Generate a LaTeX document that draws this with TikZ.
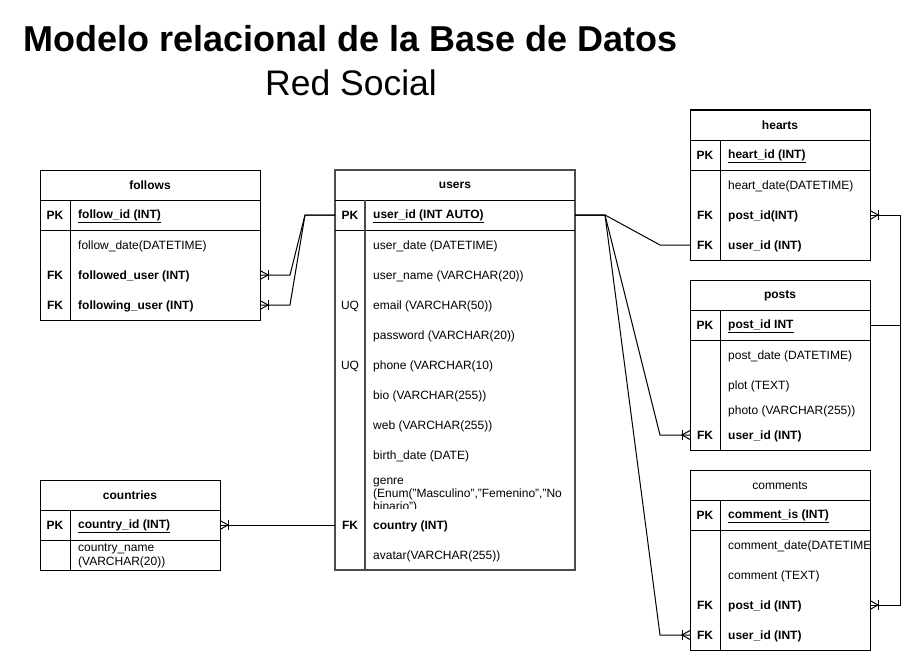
\documentclass[tikz,border=0pt]{standalone}
\usepackage{fontspec}
\setmainfont{Liberation Sans}
\newcommand\fs{\fontsize{12}{14}\selectfont}
\newcommand\erow[7]{%
  \node[rowbox, minimum width=#4pt, minimum height=#5pt, anchor=north west] (#1) at (#2,#3) {};
  \node[keytxt] (#1k) at ([xshift=15pt, yshift=-0.5pt]#1.west) {#6};
  \node[fldtxt] (#1t) at ([xshift=38pt, yshift=-1pt]#1.west) {#7};
}
\newcommand\crow[2]{%
  \draw[conn] ([yshift=4.5pt]#1) -- ([xshift=#2*8pt]#1) -- ([yshift=-4.5pt]#1);
  \draw[conn] ([xshift=#2*8pt, yshift=5pt]#1) -- ([xshift=#2*8pt, yshift=-5pt]#1);
}
\begin{document}
\begin{tikzpicture}[x=1pt, y=-1pt,
  tline/.style={line width=1pt, draw=black},
  tbox/.style={draw=black, line width=1pt, inner sep=0, outer sep=0, anchor=north west},
  ubox/.style={draw=black!70, line width=1.4pt, inner sep=0, outer sep=0, anchor=north west},
  rowbox/.style={inner sep=0, outer sep=0},
  fldtxt/.style={anchor=west, inner sep=0, font=\fs, align=left},
  keytxt/.style={anchor=center, inner sep=0, font=\fs\bfseries, text height=8.6pt, text depth=0pt},
  hdrtxt/.style={anchor=center, inner sep=0, font=\fs\bfseries},
  conn/.style={line width=1pt, draw=black},
]
\useasboundingbox[fill=white] (0,0) rectangle (919,661);

% titles
\node[anchor=base, inner sep=0, font=\fontsize{36}{42}\selectfont\bfseries] (title) at (350.5,51.5) {Modelo relacional de la Base de Datos};
\node[anchor=base, inner sep=0, font=\fontsize{35.5}{40}\selectfont] (subtitle) at (351,95.5) {Red Social};

% ---------- follows ----------
\node[tbox, minimum width=220pt, minimum height=150pt] (follows) at (40,170) {};
\node[hdrtxt] (followsh) at (150,185.5) {follows};
\draw[tline] (40,200) -- (260,200);
\draw[tline] (40,230) -- (260,230);
\draw[tline] (70,200) -- (70,320);
\erow{fPK}{40}{200}{220}{30}{PK}{\underline{\textbf{follow\_id (INT)}}}
\erow{fD}{40}{230}{220}{30}{}{follow\_date(DATETIME)}
\erow{fFU}{40}{260}{220}{30}{FK}{\textbf{followed\_user (INT)}}
\erow{fFG}{40}{290}{220}{30}{FK}{\textbf{following\_user (INT)}}

% ---------- users ----------
\node[ubox, minimum width=240pt, minimum height=400pt] (users) at (335,170) {};
\node[hdrtxt] (usersh) at (455,185.5) {users};
\draw[tline] (335,200) -- (575,200);
\draw[tline] (335,230) -- (575,230);
\draw[line width=1.4pt, draw=black!70] (365,200) -- (365,570);
\erow{uPK}{335}{200}{240}{30}{PK}{\underline{\textbf{user\_id (INT AUTO)}}}
\erow{uA}{335}{230}{240}{30}{}{user\_date (DATETIME)}
\erow{uB}{335}{260}{240}{30}{}{user\_name (VARCHAR(20))}
\erow{uC}{335}{290}{240}{30}{\mdseries UQ}{email (VARCHAR(50))}
\erow{uD}{335}{320}{240}{30}{}{password (VARCHAR(20))}
\erow{uE}{335}{350}{240}{30}{\mdseries UQ}{phone (VARCHAR(10)}
\erow{uF}{335}{380}{240}{30}{}{bio (VARCHAR(255))}
\erow{uG}{335}{410}{240}{30}{}{web (VARCHAR(255))}
\erow{uH}{335}{440}{240}{30}{}{birth\_date (DATE)}
\node[rowbox, minimum width=240pt, minimum height=40pt, anchor=north west] (uGen) at (335,470) {};
\begin{scope}
  \clip (366,470) rectangle (574,508.5);
  \node[anchor=north west, inner sep=0, font=\fontsize{12}{13.2}\selectfont, align=left] (uGent) at (373,477.5)
    {genre\\(Enum("Masculino","Femenino","No\\binario")};
\end{scope}
\erow{uCO}{335}{510}{240}{30}{FK}{\textbf{country (INT)}}
\erow{uAV}{335}{540}{240}{30}{}{avatar(VARCHAR(255))}

% ---------- hearts ----------
\node[tbox, minimum width=180pt, minimum height=150pt] (hearts) at (690,110) {};
\node[hdrtxt] (heartsh) at (780,125.5) {hearts};
\draw[tline] (690,140) -- (870,140);
\draw[tline] (690,170) -- (870,170);
\draw[tline] (720,140) -- (720,260);
\erow{hPK}{690}{140}{180}{30}{PK}{\underline{\textbf{heart\_id (INT)}}}
\erow{hD}{690}{170}{180}{30}{}{heart\_date(DATETIME)}
\erow{hP}{690}{200}{180}{30}{FK}{\textbf{post\_id(INT)}}
\erow{hU}{690}{230}{180}{30}{FK}{\textbf{user\_id (INT)}}

% ---------- posts ----------
\node[tbox, minimum width=180pt, minimum height=170pt] (posts) at (690,280) {};
\node[hdrtxt] (postsh) at (780,295.5) {posts};
\draw[tline] (690,310) -- (870,310);
\draw[tline] (690,340) -- (870,340);
\draw[tline] (720,310) -- (720,450);
\erow{pPK}{690}{310}{180}{30}{PK}{\underline{\textbf{post\_id INT}}}
\erow{pD}{690}{340}{180}{30}{}{post\_date (DATETIME)}
\erow{pPl}{690}{370}{180}{30}{}{plot (TEXT)}
\erow{pPh}{690}{400}{180}{20}{}{photo (VARCHAR(255))}
\erow{pU}{690}{420}{180}{30}{FK}{\textbf{user\_id (INT)}}

% ---------- comments ----------
\node[tbox, minimum width=180pt, minimum height=180pt] (comments) at (690,470) {};
\node[anchor=center, inner sep=0, font=\fs] (commentsh) at (780,485.5) {comments};
\draw[tline] (690,500) -- (870,500);
\draw[tline] (690,530) -- (870,530);
\draw[tline] (720,500) -- (720,650);
\erow{cPK}{690}{500}{180}{30}{PK}{\underline{\textbf{comment\_is (INT)}}}
\node[rowbox, minimum width=180pt, minimum height=30pt, anchor=north west] (cD) at (690,530) {};
\begin{scope}
  \clip (721,531) rectangle (869.5,559);
  \node[fldtxt] (cDt) at ([xshift=38pt, yshift=-1pt]cD.west) {comment\_date(DATETIME)};
\end{scope}
\erow{cC}{690}{560}{180}{30}{}{comment (TEXT)}
\erow{cP}{690}{590}{180}{30}{FK}{\textbf{post\_id (INT)}}
\erow{cU}{690}{620}{180}{30}{FK}{\textbf{user\_id (INT)}}

% ---------- countries ----------
\node[tbox, minimum width=180pt, minimum height=90pt] (countries) at (40,480) {};
\node[hdrtxt] (countriesh) at (130,495.5) {countries};
\draw[tline] (40,510) -- (220,510);
\draw[tline] (40,540) -- (220,540);
\draw[tline] (70,510) -- (70,570);
\erow{coPK}{40}{510}{180}{30}{PK}{\underline{\textbf{country\_id (INT)}}}
\erow{coN}{40}{540}{180}{30}{}{country\_name\\(VARCHAR(20))}

% ---------- connectors ----------
\draw[conn] (uPK.west) -- ++(-30,0) -- ([xshift=30pt]fFU.east) -- (fFU.east);
\draw[conn] (uPK.west) -- ++(-30,0) -- ([xshift=30pt]fFG.east) -- (fFG.east);
\draw[conn] (uPK.east) -- ++(30,0) -- ([xshift=-30pt]hU.west) -- (hU.west);
\draw[conn] (uPK.east) -- ++(30,0) -- ([xshift=-30pt]pU.west) -- (pU.west);
\draw[conn] (uPK.east) -- ++(30,0) -- ([xshift=-30pt]cU.west) -- (cU.west);
\draw[conn] (pPK.east) -- ++(30,0) |- (hP.east);
\draw[conn] (pPK.east) -- ++(30,0) |- (cP.east);
\draw[conn] (uCO.west) -- (coPK.east);

\crow{fFU.east}{1}
\crow{fFG.east}{1}
\crow{hP.east}{1}
\crow{cP.east}{1}
\crow{coPK.east}{1}
\crow{pU.west}{-1}
\crow{cU.west}{-1}
\end{tikzpicture}
\end{document}
